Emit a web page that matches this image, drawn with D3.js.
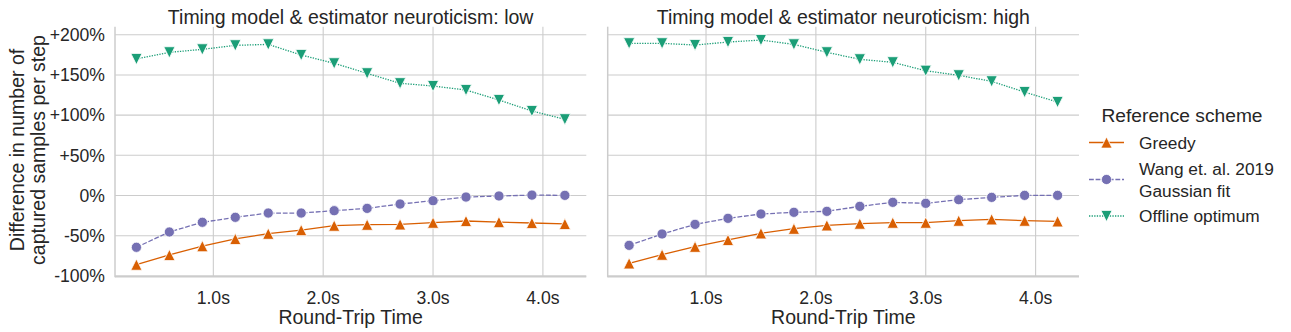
<!DOCTYPE html>
<html>
<head>
    <title>Captured samples per step</title>
    <script src="https://d3js.org/d3.v7.min.js"></script>
    <style>
        body { margin: 0; background: #fff; }
        svg text { font-family: "Liberation Sans", Arial, sans-serif; fill: #262626; }
    </style>
</head>
<body>
    <svg width="1291" height="332"></svg>
    <script>
        // round-trip times (s)
        var rtt = [0.3, 0.6, 0.9, 1.2, 1.5, 1.8, 2.1, 2.4, 2.7, 3.0, 3.3, 3.6, 3.9, 4.2];

        // neuroticism: low
        var greedyLow  = [-86, -74, -63, -54, -47.5, -43, -37.5, -36.3, -35.9, -33.8, -31.7, -33, -34.2, -35.4];
        var wangLow    = [-64.4, -45.4, -33.3, -27.1, -21.8, -21.8, -18.9, -16, -10.6, -6.5, -1.9, -0.6, 0.5, 0.2];
        var offlineLow = [169.8, 178.1, 181.8, 186.8, 188, 174.8, 164.4, 152, 139.6, 136.2, 131.2, 118.8, 105.1, 94.8];

        // neuroticism: high
        var greedyHigh  = [-84.4, -73.6, -63.7, -55.3, -47, -41.3, -37.1, -35, -33.8, -33.8, -31.3, -29.6, -31.3, -32.1];
        var wangHigh    = [-62, -47.9, -35.9, -28.4, -23, -20.9, -19.7, -13.5, -8.5, -9.7, -5.2, -2.3, 0.2, 0.2];
        var offlineHigh = [189.3, 189.3, 187.2, 190.9, 193.4, 188, 178.1, 169.4, 165.7, 155.2, 149.5, 142, 128.7, 116.3];

        var panelTitles = ["Timing model & estimator neuroticism: low", "Timing model & estimator neuroticism: high"];
        var schemes = ["Greedy", "Wang et. al. 2019\nGaussian fit", "Offline optimum"];
        var colors = ["#d95f02", "#7570b3", "#1b9e77"];
        var dashes = [null, "4.8,1.8", "1.3,1.3"];
        var markers = ["up", "circle", "down"];
        var xTicks = [1, 2, 3, 4];
        var yTicks = [-100, -50, 0, 50, 100, 150, 200];

        var panels = [
            { left: 115, series: [greedyLow, wangLow, offlineLow], title: panelTitles[0] },
            { left: 607.7, series: [greedyHigh, wangHigh, offlineHigh], title: panelTitles[1] }
        ];

        var svg = d3.select("svg");
        var plotTop = 26.7, plotBottom = 276.7, pw = 471.3;

        var y = d3.scaleLinear().domain([-101, 210]).range([plotBottom, plotTop]);

        function yFmt(v) { return v > 0 ? "+" + v + "%" : v + "%"; }

        function drawMarker(g, kind, cx, cy, color) {
            var s = 5.6;
            if (kind == "circle") {
                g.append("circle").attr("cx", cx).attr("cy", cy).attr("r", 5.1)
                    .attr("fill", color).attr("stroke", "#fff").attr("stroke-width", 0.8);
            } else {
                var d = kind == "up"
                    ? "M0," + (-s) + "L" + s + "," + s + "L" + (-s) + "," + s + "Z"
                    : "M0," + s + "L" + s + "," + (-s) + "L" + (-s) + "," + (-s) + "Z";
                g.append("path").attr("d", d).attr("transform", "translate(" + cx + "," + cy + ")")
                    .attr("fill", color).attr("stroke", "#fff").attr("stroke-width", 0.8);
            }
        }

        panels.forEach(function(p, pi) {
            var x = d3.scaleLinear().domain([0.105, 4.395]).range([p.left, p.left + pw]);
            var g = svg.append("g");

            // grid
            g.selectAll(".hg").data(yTicks).enter().append("line")
                .attr("x1", p.left).attr("x2", p.left + pw)
                .attr("y1", function(d) { return y(d); }).attr("y2", function(d) { return y(d); })
                .attr("stroke", "#cccccc").attr("stroke-width", 1.1);
            g.selectAll(".vg").data(xTicks).enter().append("line")
                .attr("x1", function(d) { return x(d); }).attr("x2", function(d) { return x(d); })
                .attr("y1", plotTop).attr("y2", plotBottom)
                .attr("stroke", "#cccccc").attr("stroke-width", 1.1);

            // spines
            g.append("line").attr("x1", p.left).attr("x2", p.left).attr("y1", plotTop).attr("y2", plotBottom + 0.6)
                .attr("stroke", "#cccccc").attr("stroke-width", 1.5);
            g.append("line").attr("x1", p.left).attr("x2", p.left + pw).attr("y1", plotBottom).attr("y2", plotBottom)
                .attr("stroke", "#cccccc").attr("stroke-width", 1.5);

            // tick labels
            g.selectAll(".xt").data(xTicks).enter().append("text")
                .attr("x", function(d) { return x(d); }).attr("y", 303.5)
                .attr("text-anchor", "middle").attr("font-size", "17.6px")
                .text(function(d) { return d.toFixed(1) + "s"; });
            if (pi == 0) {
                g.selectAll(".yt").data(yTicks).enter().append("text")
                    .attr("x", 105).attr("y", function(d) { return y(d) + 6.3; })
                    .attr("text-anchor", "end").attr("font-size", "17.6px")
                    .text(yFmt);
            }

            // title + x label
            g.append("text").attr("x", p.left + pw / 2).attr("y", 24)
                .attr("text-anchor", "middle").attr("font-size", "19.5px").text(p.title);
            g.append("text").attr("x", p.left + pw / 2).attr("y", 324)
                .attr("text-anchor", "middle").attr("font-size", "19.5px").text("Round-Trip Time");

            // series
            p.series.forEach(function(vals, si) {
                var pts = rtt.map(function(t, i) { return [x(t), y(vals[i])]; });
                g.append("path").attr("d", d3.line()(pts))
                    .attr("fill", "none").attr("stroke", colors[si]).attr("stroke-width", 1.3)
                    .attr("stroke-dasharray", dashes[si]);
                pts.forEach(function(pt) { drawMarker(g, markers[si], pt[0], pt[1], colors[si]); });
            });
        });

        // y label
        var yl = svg.append("text").attr("transform", "translate(24,150) rotate(-90)")
            .attr("text-anchor", "middle").attr("font-size", "19.5px");
        yl.append("tspan").attr("x", 0).attr("dy", 0).text("Difference in number of");
        yl.append("tspan").attr("x", 0).attr("dy", 20.5).text("captured samples per step");

        // legend
        var lg = svg.append("g");
        lg.append("text").attr("x", 1101.5).attr("y", 122).attr("font-size", "19.2px").text("Reference scheme");
        var rowY = [142.5, 179.5, 216];
        schemes.forEach(function(name, i) {
            lg.append("line").attr("x1", 1089).attr("x2", 1124).attr("y1", rowY[i]).attr("y2", rowY[i])
                .attr("stroke", colors[i]).attr("stroke-width", 1.3).attr("stroke-dasharray", dashes[i]);
            drawMarker(lg, markers[i], 1106.5, rowY[i], colors[i]);
            var lines = name.split("\n");
            var t = lg.append("text").attr("font-size", "17.3px");
            lines.forEach(function(s, k) {
                t.append("tspan").attr("x", 1139)
                    .attr("y", rowY[i] + 6 - (lines.length - 1) * 11 + k * 22).text(s);
            });
        });
    </script>
</body>
</html>
